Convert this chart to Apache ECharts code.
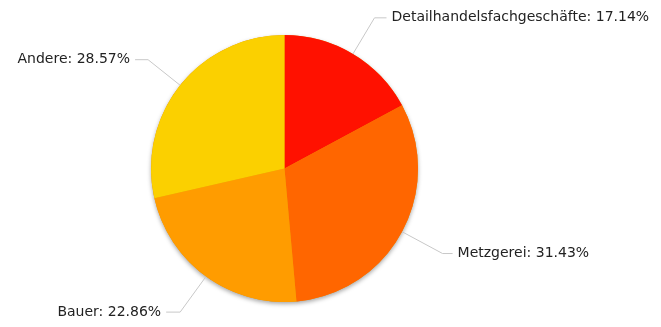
<!DOCTYPE html>
<html><head><meta charset="utf-8">
<script src="https://cdn.jsdelivr.net/npm/echarts@6/dist/echarts.min.js"></script>
<style>html,body{margin:0;padding:0;background:#fff}#c{width:661px;height:327px}</style>
</head><body><div id="c"></div>
<script>
const categories = ["Detailhandelsfachgeschäfte", "Metzgerei", "Bauer", "Andere"];
const values = [17.14, 31.43, 22.86, 28.57];
const colors = ["#ff1100", "#ff6600", "#ff9c00", "#fbd000"];
// label line layout (first segment / horizontal segment), per slice
const lineLen1 = [42, 46, 44, 41];
const lineLen2 = [12, 10, 14, 13];

const chart = echarts.init(document.getElementById('c'), null, {renderer: 'canvas'});
const total = values.reduce((a, b) => a + b, 0);
chart.setOption({
  animation: false,
  series: [{
    // shadow layer under the whole pie
    type: 'pie', silent: true, z: 1,
    center: [284.5, 168.5], radius: [0, 133.5],
    label: {show: false}, labelLine: {show: false},
    data: [{value: total, itemStyle: {color: '#e89000', shadowBlur: 4, shadowOffsetY: 2, shadowColor: 'rgba(0,0,0,0.35)'}}],
    emphasis: {disabled: true}, tooltip: {show: false}
  }, {
    type: 'pie', z: 2,
    center: [284.5, 168.5],
    radius: [0, 133.5],
    startAngle: 90,
    clockwise: true,
    avoidLabelOverlap: false,
    data: categories.map((n, i) => ({
      name: n, value: values[i], itemStyle: {color: colors[i]},
      labelLine: {length: lineLen1[i], length2: lineLen2[i]}
    })),
    itemStyle: {borderWidth: 0},
    label: {
      formatter: p => p.name + ': ' + p.value.toFixed(2) + '%',
      fontFamily: 'DejaVu Sans', fontSize: 14, color: '#222',
      distanceToLabelLine: 5
    },
    labelLine: {lineStyle: {color: '#c8c8c8', width: 1}},
    emphasis: {disabled: true}
  }]
});
</script></body></html>
